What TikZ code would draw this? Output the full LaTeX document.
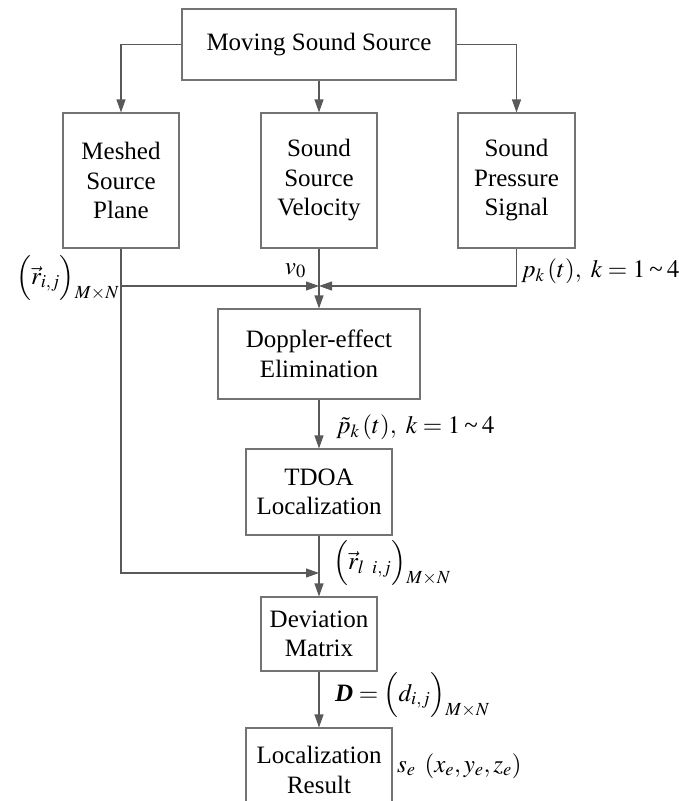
\documentclass[tikz,border=0pt]{standalone}
\usepackage{amsmath}
\usepackage{mathptmx}
\usepackage{fontspec}
\setmainfont{Liberation Serif}
\usetikzlibrary{arrows.meta}

% size subscript set just below the big closing parenthesis
\newcommand{\msub}{\raisebox{-14pt}{$\scriptstyle M\times N$}}

\begin{document}
\begin{tikzpicture}[x=1pt, y=-1pt,
			box/.style  = {draw=black!55, line width=1.1pt, align=center, inner sep=0pt,
				font=\fontsize{25}{29.5}\selectfont},
			lab/.style  = {inner sep=0pt, font=\fontsize{25}{30}\selectfont},
			link/.style = {draw=black!65, line width=1.1pt},
			arr/.style  = {link, -{Triangle[length=13pt,width=9pt]}}]
			
			\clip (0,0) rectangle (679,801);
			
			% boxes
			\node[box, minimum width=274, minimum height=71] (src) at (319,44.5) {Moving Sound Source};
			\node[box, minimum width=116, minimum height=135] (plane) at (121,180.5) {Meshed\\Source\\Plane};
			\node[box, minimum width=116, minimum height=135] (vel) at (319,180.5) {Sound\\Source\\Velocity};
			\node[box, minimum width=117, minimum height=135] (sig) at (516.5,180.5) {Sound\\Pressure\\Signal};
			\node[box, minimum width=202, minimum height=90] (dop) at (319,354) {Doppler-effect\\Elimination};
			\node[box, minimum width=146, minimum height=86] (tdoa) at (319,492) {TDOA\\Localization};
			\node[box, minimum width=116, minimum height=74] (dev) at (319,634) {Deviation\\Matrix};
			\node[box, minimum width=146, minimum height=84] (res) at (319,770) {Localization\\Result};
			
			\coordinate (jn) at (319,286);
			\coordinate (jd) at (319,573);
			
			% labels
			\node[lab, anchor=base east] (lr) at (119,284) {$\Bigl(\vec{r}_{i,j}\Bigr)\msub$};
			\node[lab, anchor=base east] (lv) at (306,274) {$v_0$};
			\node[lab, anchor=base west] (lp) at (521,277) {$p_k\,(t),\ k=1$\,\textasciitilde\,$4$};
			\node[lab, anchor=base west] (lpt) at (336,433) {$\tilde{p}_k\,(t),\ k=1$\,\textasciitilde\,$4$};
			\node[lab, anchor=base west] (lrl) at (333,569) {$\Bigl(\vec{r}_{l\ \,i,j}\Bigr)\msub$};
			\node[lab, anchor=base west] (ld) at (335,701) {$\textbf{\textit{D}}=\Bigl(d_{i,j}\Bigr)\msub$};
			\node[lab, anchor=base west] (ls) at (397,772) {$s_e\ \,(x_e, y_e, z_e)$};
			
			% connectors
			\draw[arr] (src.west) -| (plane.north);
			\draw[arr] (src.south) -- (vel.north);
			\draw[arr] (src.east) -| (sig.north);
			
			\draw[arr] (plane.south) |- (jn);
			\draw[arr] (sig.south) |- (jn);
			\draw[arr] (vel.south) -- (dop.north);
			\draw[arr] (plane.south) |- (jd);
			
			\draw[arr] (dop.south) -- (tdoa.north);
			\draw[arr] (tdoa.south) -- (dev.north);
			\draw[arr] (dev.south) -- (res.north);
		\end{tikzpicture}
\end{document}
